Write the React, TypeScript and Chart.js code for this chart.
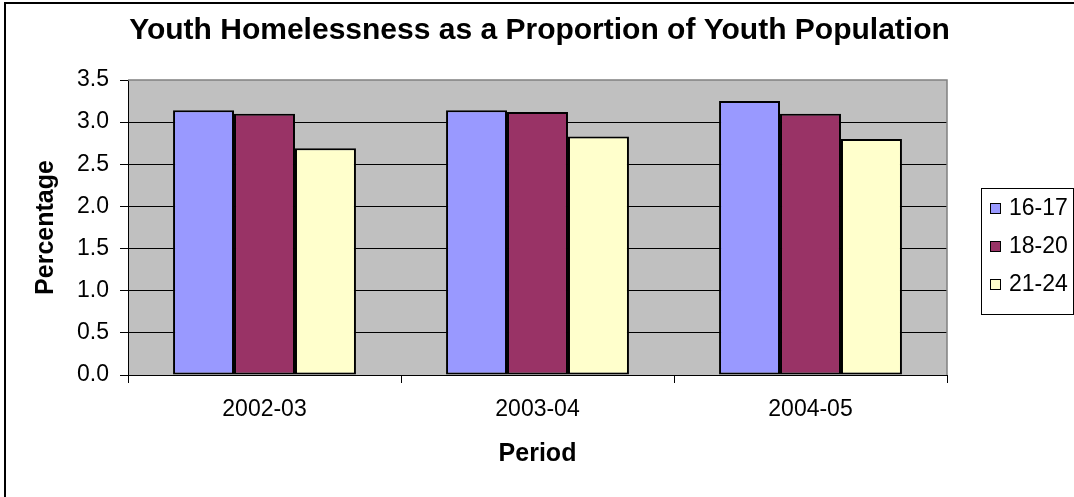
import React, { useEffect, useRef } from 'react';
import { Chart, registerables } from 'chart.js';

Chart.register(...registerables);

const FONT = '"Liberation Sans", Arial, Helvetica, sans-serif';

const chartTitle = 'Youth Homelessness as a Proportion of Youth Population';
const xAxisTitle = 'Period';
const yAxisTitle = 'Percentage';

const categories = ['2002-03', '2003-04', '2004-05'];
const seriesLabels = ['16-17', '18-20', '21-24'];
const values1617 = [3.14, 3.14, 3.25];
const values1820 = [3.10, 3.12, 3.10];
const values2124 = [2.69, 2.83, 2.80];
const seriesColors = ['#9999FF', '#993366', '#FFFFCC'];

const yMin = 0;
const yMax = 3.5;
const yStep = 0.5;

export default function App() {
  const ref = useRef<HTMLCanvasElement>(null);

  useEffect(() => {
    document.body.style.margin = '0';
    const canvas = ref.current;
    if (!canvas) return;

    const excelPlugin = {
      id: 'excelChrome',
      beforeDraw(chart: any) {
        const { ctx, chartArea: a, width, height } = chart;
        ctx.save();
        ctx.fillStyle = '#ffffff';
        ctx.fillRect(0, 0, width, height);
        // outer chart border
        ctx.strokeStyle = '#000000';
        ctx.lineWidth = 2;
        ctx.strokeRect(5, 3, width + 40, height + 40);
        // plot area
        ctx.fillStyle = '#C0C0C0';
        ctx.fillRect(a.left, a.top, a.right - a.left, a.bottom - a.top);
        ctx.restore();
      },
      afterDatasetsDraw(chart: any) {
        const { ctx, chartArea: a } = chart;
        ctx.save();
        ctx.strokeStyle = '#808080';
        ctx.lineWidth = 1.5;
        ctx.beginPath();
        ctx.moveTo(a.left, a.top);
        ctx.lineTo(a.right, a.top);
        ctx.lineTo(a.right, a.bottom);
        ctx.stroke();
        ctx.restore();
      },
      afterDraw(chart: any) {
        const { ctx } = chart;
        ctx.save();
        // title
        ctx.fillStyle = '#000000';
        ctx.font = `bold 30px ${FONT}`;
        ctx.textAlign = 'center';
        ctx.textBaseline = 'middle';
        ctx.fillText(chartTitle, 539.5, 31);
        // legend
        const boxL = 981, boxT = 188, boxR = 1073, boxB = 314;
        ctx.strokeStyle = '#000000';
        ctx.lineWidth = 1;
        ctx.strokeRect(boxL + 0.5, boxT + 0.5, boxR - boxL, boxB - boxT);
        const rowY = [208, 246, 284];
        ctx.font = `23px ${FONT}`;
        ctx.textAlign = 'left';
        chart.data.datasets.forEach((ds: any, i: number) => {
          const cy = rowY[i];
          ctx.fillStyle = ds.backgroundColor;
          ctx.fillRect(990, cy - 5, 11, 11);
          ctx.strokeStyle = '#000000';
          ctx.lineWidth = 1;
          ctx.strokeRect(990.5, cy - 4.5, 10, 10);
          ctx.fillStyle = '#000000';
          ctx.fillText(ds.label, 1009, cy + 1);
        });
        ctx.restore();
      },
    };

    const mk = (label: string, data: number[], color: string) => ({
      label,
      data,
      backgroundColor: color,
      borderColor: '#000000',
      borderWidth: 2,
      borderSkipped: false,
      categoryPercentage: 0.67,
      barPercentage: 1.0,
    });

    const chart = new Chart(canvas, {
      type: 'bar',
      data: {
        labels: categories,
        datasets: [
          mk(seriesLabels[0], values1617, seriesColors[0]),
          mk(seriesLabels[1], values1820, seriesColors[1]),
          mk(seriesLabels[2], values2124, seriesColors[2]),
        ],
      },
      options: {
        animation: false,
        responsive: false,
        devicePixelRatio: 1,
        layout: { padding: { left: 0, right: 127, top: 80, bottom: 0 } },
        plugins: {
          legend: { display: false },
          title: { display: false },
          tooltip: { enabled: false },
        },
        scales: {
          x: {
            offset: true,
            grid: {
              offset: true,
              drawOnChartArea: false,
              drawTicks: true,
              tickLength: 8,
              tickColor: (c: any) => (c.index === 3 ? '#808080' : '#000000'),
              color: '#000000',
            },
            border: { display: true, color: '#000000', width: 1 },
            ticks: {
              color: '#000000',
              font: { family: FONT, size: 23 },
              padding: 13,
              maxRotation: 0,
            },
            title: {
              display: true,
              text: xAxisTitle,
              color: '#000000',
              font: { family: FONT, size: 25, weight: 'bold' },
              padding: { top: 0, bottom: 28 },
            },
            afterFit: (s: any) => {
              s.height = 122;
            },
          },
          y: {
            min: yMin,
            max: yMax,
            ticks: {
              stepSize: yStep,
              color: '#000000',
              font: { family: FONT, size: 23 },
              padding: 11,
              callback: (v: any) => Number(v).toFixed(1),
            },
            grid: {
              color: (c: any) => (c.tick && c.tick.value === yMax ? 'rgba(0,0,0,0)' : '#000000'),
              tickColor: '#000000',
              tickLength: 8,
              lineWidth: 1,
            },
            border: { display: true, color: '#000000', width: 1 },
            title: {
              display: true,
              text: yAxisTitle,
              color: '#000000',
              font: { family: FONT, size: 25, weight: 'bold' },
              padding: { top: 31, bottom: 0 },
            },
            afterFit: (s: any) => {
              s.width = 128;
            },
          },
        },
      },
      plugins: [excelPlugin],
    } as any);

    return () => chart.destroy();
  }, []);

  return (
    <div style={{ width: 1074, height: 497 }}>
      <canvas ref={ref} width={1074} height={497} />
    </div>
  );
}
